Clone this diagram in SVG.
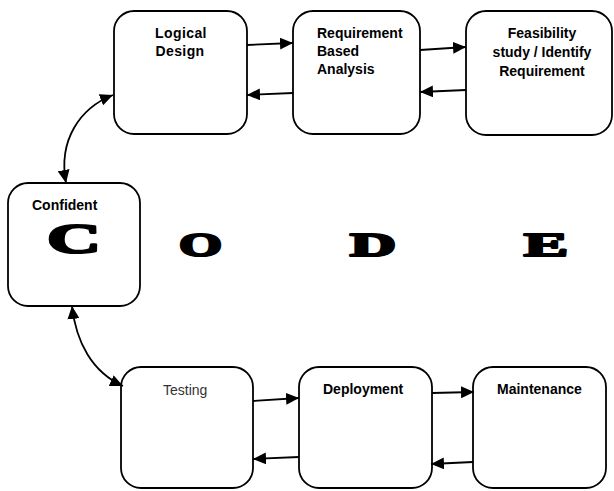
<svg xmlns="http://www.w3.org/2000/svg" width="614" height="491" viewBox="0 0 614 491">
<style>
.box{fill:#fff;stroke:#000;stroke-width:1.8}
.lbl{font-family:"Liberation Sans",Arial,sans-serif;font-size:14px;font-weight:bold;fill:#000}
.big{font-family:"Liberation Serif","Times New Roman",serif;font-weight:bold;fill:#000;stroke:#000;stroke-width:2.2;stroke-linejoin:round}
.con{fill:none;stroke:#000;stroke-width:1.8}
</style>
<defs>
<marker id="ah" viewBox="0 0 13 12" refX="13" refY="6" markerWidth="13" markerHeight="12" markerUnits="userSpaceOnUse" orient="auto-start-reverse">
<path d="M0,0 L13,6 L0,12 z" fill="#000"/>
</marker>
</defs>
<rect width="614" height="491" fill="#fff"/>
<g id="logical">
<rect class="box" x="114" y="11" width="133" height="123" rx="20"/>
<text class="lbl" x="181" y="38" text-anchor="middle" letter-spacing="0.4">Logical</text>
<text class="lbl" x="180" y="56" text-anchor="middle" letter-spacing="0.4">Design</text>
</g>
<g id="requirement">
<rect class="box" x="293" y="11" width="127" height="123" rx="20"/>
<text class="lbl" x="317" y="38">Requirement</text>
<text class="lbl" x="317" y="56">Based</text>
<text class="lbl" x="317" y="74">Analysis</text>
</g>
<g id="feasibility">
<rect class="box" x="466" y="11" width="146" height="124" rx="20"/>
<text class="lbl" x="542" y="38" text-anchor="middle">Feasibility</text>
<text class="lbl" x="542" y="57" text-anchor="middle">study / Identify</text>
<text class="lbl" x="542" y="76" text-anchor="middle">Requirement</text>
</g>
<g id="confident">
<rect class="box" x="8" y="183" width="132" height="123" rx="20"/>
<text class="lbl" x="32" y="210">Confident</text>
<text class="big" x="47" y="253" font-size="42" textLength="54" lengthAdjust="spacingAndGlyphs">C</text>
</g>
<g id="letters">
<text class="big" x="179" y="256" font-size="33" textLength="43" lengthAdjust="spacingAndGlyphs">O</text>
<text class="big" x="350" y="256" font-size="33" textLength="46" lengthAdjust="spacingAndGlyphs">D</text>
<text class="big" x="524" y="256" font-size="33" textLength="44" lengthAdjust="spacingAndGlyphs">E</text>
</g>
<g id="testing">
<rect class="box" x="121" y="367" width="132" height="121" rx="20"/>
<text x="163" y="395" font-family="Liberation Sans,Arial,sans-serif" font-size="14" fill="#333">Testing</text>
</g>
<g id="deployment">
<rect class="box" x="299" y="367" width="133" height="121" rx="20"/>
<text class="lbl" x="323" y="394">Deployment</text>
</g>
<g id="maintenance">
<rect class="box" x="473" y="367" width="133" height="121" rx="20"/>
<text class="lbl" x="497" y="394">Maintenance</text>
</g>
<g id="connectors">
<line class="con" x1="247" y1="45" x2="293" y2="43" marker-end="url(#ah)"/>
<line class="con" x1="293" y1="93" x2="247" y2="95" marker-end="url(#ah)"/>
<line class="con" x1="420" y1="50" x2="466" y2="47" marker-end="url(#ah)"/>
<line class="con" x1="466" y1="90" x2="420" y2="92" marker-end="url(#ah)"/>
<line class="con" x1="253" y1="401" x2="299" y2="398" marker-end="url(#ah)"/>
<line class="con" x1="299" y1="457" x2="253" y2="459" marker-end="url(#ah)"/>
<line class="con" x1="432" y1="393" x2="474" y2="392" marker-end="url(#ah)"/>
<line class="con" x1="473" y1="462" x2="431" y2="464" marker-end="url(#ah)"/>
<path class="con" d="M66,183 C58,140 80,108 113,95" marker-start="url(#ah)" marker-end="url(#ah)"/>
<path class="con" d="M72,306 C76,342 92,372 123,386" marker-start="url(#ah)" marker-end="url(#ah)"/>
</g>
</svg>
